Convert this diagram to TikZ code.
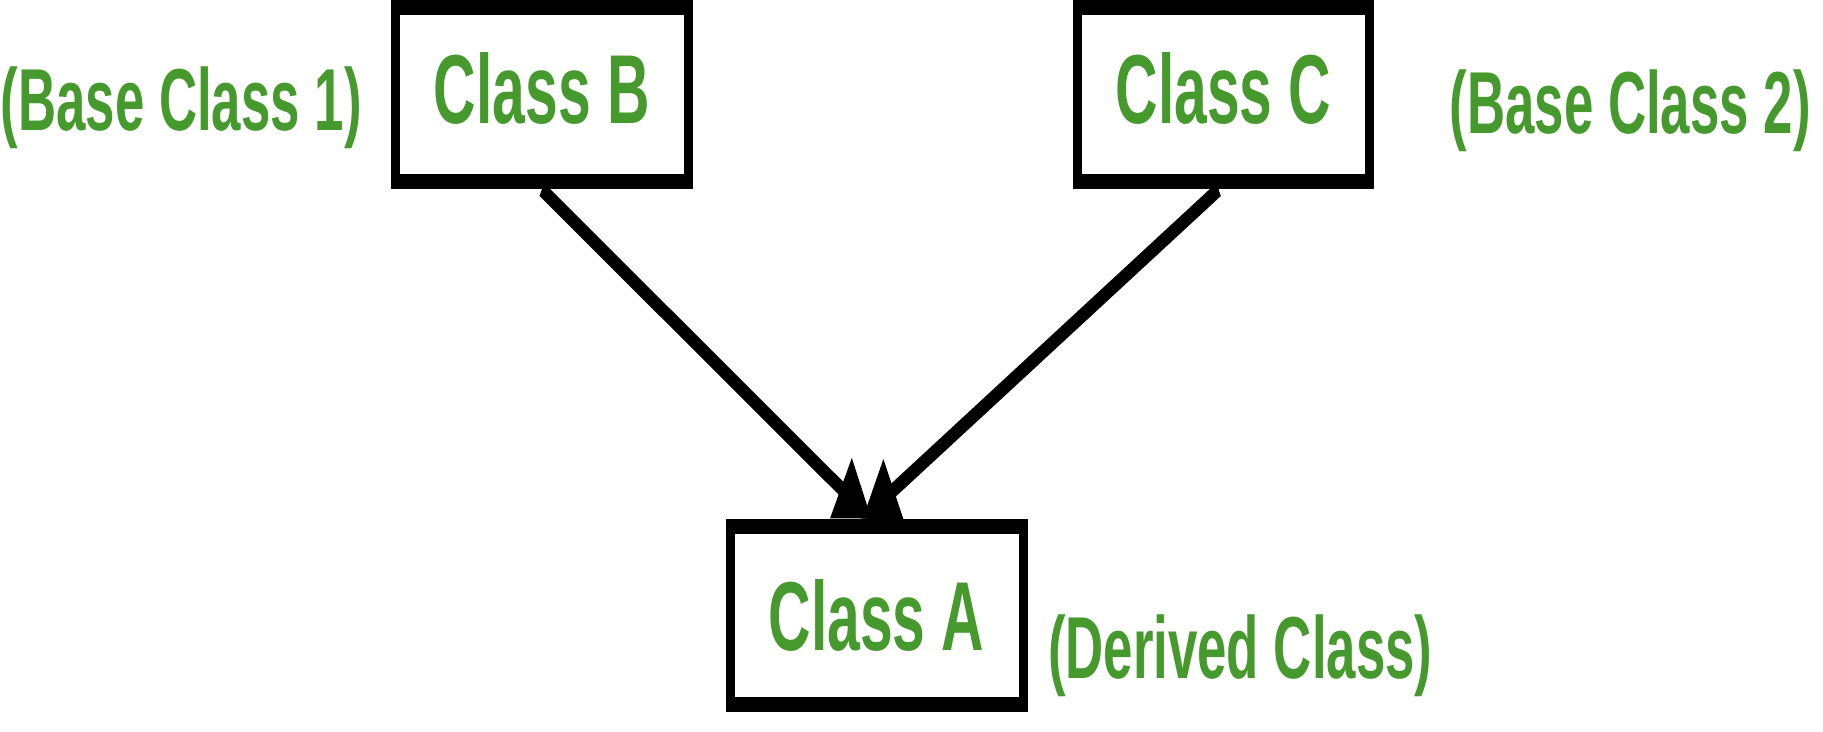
\documentclass[tikz,border=0pt]{standalone}
\usepackage{fontspec}
\setmainfont{Liberation Sans}
\usetikzlibrary{arrows.meta}
\definecolor{classgreen}{RGB}{69,153,45}

\begin{document}
\begin{tikzpicture}[x=0.5pt,y=-0.5pt,->,>={Triangle[length=30pt,width=33pt]},
	classnode/.style={rectangle,draw,line width=7.5pt,minimum width=244pt,inner sep=0pt,text=classgreen,font=\fontsize{49}{50}\selectfont\bfseries},
	labelnode/.style={anchor=base,inner sep=0pt,text=classgreen,font=\fontsize{44}{45}\selectfont\bfseries}]
	
	\useasboundingbox (0,0) rectangle (1823,732);
	\begin{scope}[transform canvas={xscale=0.6}]
	\node [classnode,minimum height=87pt,text depth=7pt] (B) at (903,95) {Class B};
	\node [classnode,minimum height=87pt,text depth=7pt] (C) at (2039,95) {Class C};
	\node [classnode,minimum height=89pt] (A) at (1461,615.5) {Class A};
	
	\node [labelnode] (Blabel) at (302,131) {(Base Class 1)};
	\node [labelnode] (Clabel) at (2717,134) {(Base Class 2)};
	\node [labelnode] (Alabel) at (2067,678) {(Derived Class)};
	
	\draw [line width=7.5pt] (B.south) to ([xshift=-4pt]A.north);
	\draw [line width=7.5pt] ([xshift=-4pt]C.south) to ([xshift=-12pt]A.north);
	\end{scope}
\end{tikzpicture}
\end{document}
